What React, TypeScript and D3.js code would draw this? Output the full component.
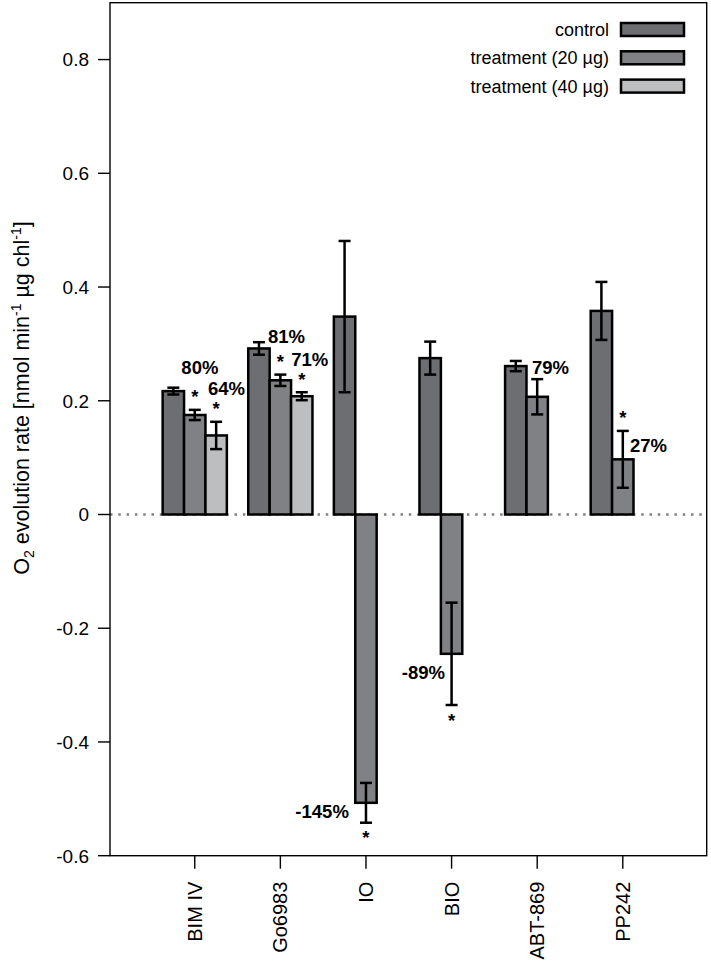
import React from 'react';
import * as d3 from 'd3';

// ---------- data ----------
const categories = ['BIM IV', 'Go6983', 'IO', 'BIO', 'ABT-869', 'PP242'];
const seriesNames = ['control', 'treatment (20 µg)', 'treatment (40 µg)'];
const controlValues = [0.217, 0.292, 0.348, 0.275, 0.261, 0.358];
const controlErrors = [0.006, 0.011, 0.133, 0.029, 0.009, 0.051];
const treat20Values = [0.175, 0.236, -0.507, -0.245, 0.207, 0.097];
const treat20Errors = [0.009, 0.010, 0.035, 0.09, 0.031, 0.05];
const treat40Values: (number | null)[] = [0.139, 0.208, null, null, null, null];
const treat40Errors: (number | null)[] = [0.024, 0.007, null, null, null, null];
const yTicks = [-0.6, -0.4, -0.2, 0, 0.2, 0.4, 0.6, 0.8];
const yTickLabels = ['-0.6', '-0.4', '-0.2', '0', '0.2', '0.4', '0.6', '0.8'];
// percentage labels: category index, series index, text
const pctLabelCat = [0, 0, 1, 1, 4, 5, 2, 3];
const pctLabelSeries = [1, 2, 1, 2, 1, 1, 1, 1];
const pctLabelText = ['80%', '64%', '81%', '71%', '79%', '27%', '-145%', '-89%'];
// significance stars: category index, series index
const starCat = [0, 0, 1, 1, 5, 2, 3];
const starSeries = [1, 2, 1, 2, 1, 1, 1];

// ---------- layout ----------
const W = 711;
const H = 965;
const P = { left: 110, right: 706.7, top: 2.7, bottom: 855.7 };
const COLORS = ['#6d6e71', '#808184', '#bcbec0'];
const FONT = '"Liberation Sans", Arial, Helvetica, sans-serif';
// label placement (offset in bar units from bar centre, y in data units, anchor)
const pctDx = [0.24, 0.48, 0.29, 0.37, 0.62, 1.2, -0.8, -0.31];
const pctY = [0.258, 0.2216, 0.314, 0.2735, 0.2594, 0.1213, -0.5214, -0.277];
const pctAnchor = ['middle', 'middle', 'middle', 'middle', 'middle', 'middle', 'end', 'end'];

export default function App() {
  const x = d3.scaleLinear().domain([-1.46, 26.42]).range([P.left, P.right]);
  const y = d3.scaleLinear().domain([-0.6, 0.9]).range([P.bottom, P.top]);

  const values = [controlValues, treat20Values, treat40Values];
  const errors = [controlErrors, treat20Errors, treat40Errors];
  const slot = (ci: number, si: number) => 1 + 4 * ci + si;
  const centre = (ci: number) => x(slot(ci, 1) + 0.5);

  const bars: any[] = [];
  values.forEach((arr, si) =>
    arr.forEach((v, ci) => {
      if (v == null) return;
      const u0 = slot(ci, si);
      bars.push({ si, ci, v, e: errors[si][ci], x0: x(u0), x1: x(u0 + 1) });
    })
  );

  const cap = 6;
  const sup = 14;

  return (
    <svg width={W} height={H} style={{ position: 'absolute', left: 0, top: 0, background: '#fff' }} fontFamily={FONT}>
      <rect x={0} y={0} width={W} height={H} fill="#fff" />
      {/* zero line */}
      <line x1={P.left} x2={P.right} y1={y(0)} y2={y(0)} stroke="#808080" strokeWidth={2.4} strokeDasharray="2.5 5.8" />
      {/* bars */}
      {bars.map((b, i) => (
        <rect key={'b' + i} x={b.x0} width={b.x1 - b.x0} y={y(Math.max(0, b.v))} height={Math.abs(y(b.v) - y(0))}
          fill={COLORS[b.si]} stroke="#000" strokeWidth={2.5} />
      ))}
      {/* error bars */}
      {bars.map((b, i) => {
        const cx = (b.x0 + b.x1) / 2;
        const y1 = y(b.v + b.e);
        const y2 = y(b.v - b.e);
        return (
          <g key={'e' + i} stroke="#000" strokeWidth={2.5}>
            <line x1={cx} x2={cx} y1={y1} y2={y2} />
            <line x1={cx - cap} x2={cx + cap} y1={y1} y2={y1} />
            <line x1={cx - cap} x2={cx + cap} y1={y2} y2={y2} />
          </g>
        );
      })}
      {/* percent labels */}
      {pctLabelText.map((t, i) => {
        const u = slot(pctLabelCat[i], pctLabelSeries[i]) + 0.5 + pctDx[i];
        return (
          <text key={'p' + i} x={x(u)} y={y(pctY[i])} dy="0.36em" textAnchor={pctAnchor[i] as any}
            fontWeight="bold" fontSize={18.5} fill="#000">{t}</text>
        );
      })}
      {/* stars */}
      {starCat.map((ci, i) => {
        const si = starSeries[i];
        const v = values[si][ci] as number;
        const e = errors[si][ci] as number;
        const cx = x(slot(ci, si) + 0.5);
        const cy = v >= 0 ? y(v + e) - 17 : y(v - e) + 11;
        return (
          <text key={'s' + i} x={cx} y={cy + 10.5} textAnchor="middle" fontWeight="bold" fontSize={18.5} fill="#000">*</text>
        );
      })}
      {/* box */}
      <rect x={P.left} y={P.top} width={P.right - P.left} height={P.bottom - P.top} fill="none" stroke="#000" strokeWidth={1.4} />
      {/* y axis */}
      {yTicks.map((t, i) => (
        <g key={'y' + i}>
          <line x1={P.left - 12} x2={P.left} y1={y(t)} y2={y(t)} stroke="#000" strokeWidth={1.4} />
          <text x={P.left - 21} y={y(t)} dy="0.36em" textAnchor="end" fontSize={19} fill="#000">{yTickLabels[i]}</text>
        </g>
      ))}
      {/* x axis */}
      {categories.map((c, ci) => (
        <g key={'x' + ci}>
          <line x1={centre(ci)} x2={centre(ci)} y1={P.bottom} y2={P.bottom + 13} stroke="#000" strokeWidth={1.4} />
          <text transform={`translate(${centre(ci) + 7},${P.bottom + 26}) rotate(-90)`} textAnchor="end" fontSize={20} fill="#000">{c}</text>
        </g>
      ))}
      {/* y title */}
      <text transform={`translate(29,398) rotate(-90)`} textAnchor="middle" fontSize={21.5} fill="#000">
        O<tspan fontSize={sup} dy={5}>2</tspan><tspan dy={-5}> evolution rate [nmol min</tspan>
        <tspan fontSize={sup} dy={-8}>-1</tspan><tspan dy={8}> µg chl</tspan><tspan fontSize={sup} dy={-8}>-1</tspan><tspan dy={8}>]</tspan>
      </text>
      {/* legend */}
      {seriesNames.map((s, i) => {
        const cy = 29.5 + i * 28.3;
        return (
          <g key={'l' + i}>
            <text x={609} y={cy} dy="0.36em" textAnchor="end" fontSize={18} fill="#000">{s}</text>
            <rect x={621} y={cy - 6.5} width={63} height={13} fill={COLORS[i]} stroke="#000" strokeWidth={2.5} />
          </g>
        );
      })}
    </svg>
  );
}
